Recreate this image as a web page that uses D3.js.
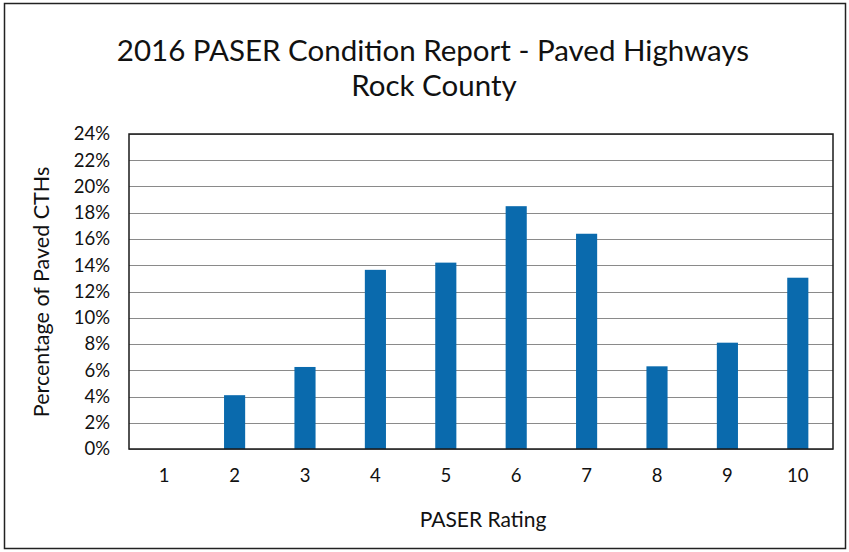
<!DOCTYPE html>
<html>
<head>
<meta charset="utf-8">
<script src="https://cdn.jsdelivr.net/npm/d3@7"></script>
<style>
  body { margin: 0; background: #fff; }
  svg { display: block; font-family: Lato, "Open Sans", sans-serif; }
  .grid line { stroke: #8a8a8a; stroke-width: 1; }
  .axis text { font-size: 18.5px; fill: #111; }
</style>
</head>
<body>
<svg width="849" height="552"></svg>
<script>
// PASER ratings and share of paved CTHs (%)
const ratings = ["1", "2", "3", "4", "5", "6", "7", "8", "9", "10"];
const percents = [0, 4.1, 6.25, 13.65, 14.2, 18.5, 16.4, 6.3, 8.1, 13.05];
const yTicks = [0, 2, 4, 6, 8, 10, 12, 14, 16, 18, 20, 22, 24];

const svg = d3.select("svg");
const margin = { top: 134, right: 16, bottom: 103, left: 129 };
const width = 849 - margin.left - margin.right;
const height = 552 - margin.top - margin.bottom;

// outer frame
svg.append("rect")
  .attr("x", 4.5).attr("y", 3.5)
  .attr("width", 841).attr("height", 545)
  .attr("fill", "none").attr("stroke", "#222").attr("stroke-width", 1.5);

const x = d3.scaleBand().domain(ratings).range([0, width]).paddingInner(0.7).paddingOuter(0.35);
const y = d3.scaleLinear().domain([0, 24]).range([height, 0]);

const g = svg.append("g").attr("transform", `translate(${margin.left},${margin.top})`);

// gridlines
g.append("g").attr("class", "grid")
  .selectAll("line")
  .data(yTicks)
  .enter()
  .append("line")
  .attr("x1", 0).attr("x2", width)
  .attr("y1", (d) => Math.round(y(d)) + 0.5)
  .attr("y2", (d) => Math.round(y(d)) + 0.5);

// bars
g.append("g")
  .selectAll("rect")
  .data(percents)
  .enter()
  .append("rect")
  .attr("x", (d, i) => x(ratings[i]))
  .attr("y", (d) => y(d))
  .attr("width", x.bandwidth())
  .attr("height", (d) => height - y(d))
  .attr("fill", "#0a6aad");

// plot border
g.append("rect")
  .attr("x", 0).attr("y", 0)
  .attr("width", width).attr("height", height)
  .attr("fill", "none").attr("stroke", "#1a1a1a").attr("stroke-width", 1.5);

// y axis
g.append("g")
  .attr("class", "axis")
  .call(d3.axisLeft(y).tickValues(yTicks).tickSize(0).tickPadding(19).tickFormat((d) => d + "%"))
  .call((s) => s.select(".domain").remove())
  .selectAll("text").style("font-family", "Lato, sans-serif");

// x axis
g.append("g")
  .attr("class", "axis")
  .attr("transform", `translate(0,${height})`)
  .call(d3.axisBottom(x).tickSize(0).tickPadding(20))
  .call((s) => s.select(".domain").remove())
  .selectAll("text").style("font-family", "Lato, sans-serif");

// titles
svg.append("text")
  .attr("x", 433).attr("y", 61)
  .attr("text-anchor", "middle")
  .attr("font-size", 29.5)
  .attr("fill", "#111")
  .text("2016 PASER Condition Report - Paved Highways");

svg.append("text")
  .attr("x", 434).attr("y", 96)
  .attr("text-anchor", "middle")
  .attr("font-size", 29.5)
  .attr("fill", "#111")
  .text("Rock County");

svg.append("text")
  .attr("x", 483).attr("y", 527)
  .attr("text-anchor", "middle")
  .attr("font-size", 21)
  .attr("fill", "#111")
  .text("PASER Rating");

svg.append("text")
  .attr("transform", "translate(49,292) rotate(-90)")
  .attr("text-anchor", "middle")
  .attr("font-size", 21.5)
  .attr("fill", "#111")
  .text("Percentage of Paved CTHs");
</script>
</body>
</html>
